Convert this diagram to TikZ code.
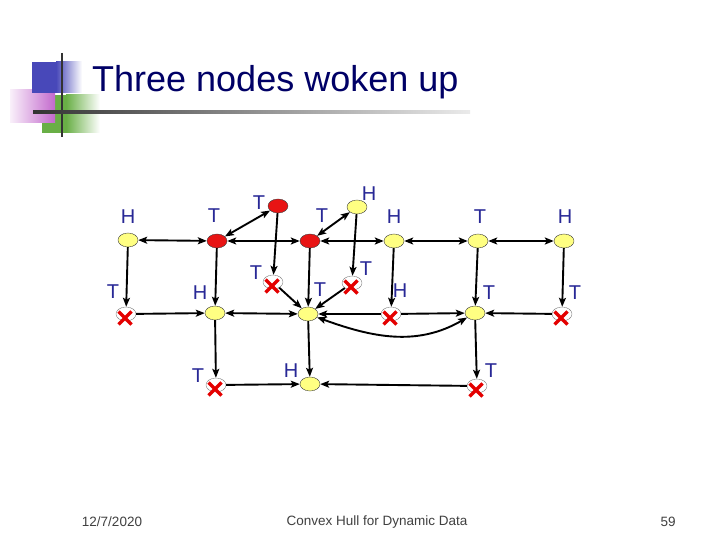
\documentclass[tikz,border=0pt]{standalone}
\usepackage{fontspec}
\setmainfont{Liberation Sans}
\usetikzlibrary{shapes.geometric, arrows.meta}
\definecolor{titleblue}{RGB}{0,0,102}
\definecolor{labelblue}{RGB}{40,40,150}
\definecolor{nodeyellow}{RGB}{255,255,130}
\definecolor{nodered}{RGB}{232,20,20}
\definecolor{xred}{RGB}{228,0,0}
\definecolor{logoblue}{RGB}{72,72,185}
\definecolor{logopink}{RGB}{195,105,205}
\definecolor{logogreen}{RGB}{105,175,70}

\begin{document}
\begin{tikzpicture}[x=1pt, y=-1pt,
    every node/.style={font=\fontsize{20}{22}\selectfont, text=labelblue, inner sep=0pt},
    hnode/.style={ellipse, draw=black!75, fill=nodeyellow, minimum width=20pt, minimum height=14pt},
    wnode/.style={hnode, fill=nodered},
    xnode/.style={hnode, fill=white, draw=black!50},
    arr/.style={-{Stealth[length=9pt,width=7pt,inset=2pt]}, line width=1.9pt},
    biarr/.style={{Stealth[length=9pt,width=7pt,inset=2pt]}-{Stealth[length=9pt,width=7pt,inset=2pt]}, line width=1.9pt},
    xline/.style={xred, line width=3.2pt}]
    \useasboundingbox[fill=white] (0,0) rectangle (720,540);
    % logo
    \fill[logogreen] (42,95) rectangle (66,133);
    \shade[left color=logogreen, right color=white] (66,95) rectangle (100,133);
    \shade[left color=logopink!10, right color=logopink] (10,90) rectangle (55,123);
    \fill[logoblue] (32,62) rectangle (56,93);
    \shade[left color=logoblue, right color=white] (56,62) rectangle (82,93);
    \draw[black!80, line width=2.5pt] (62,53) -- (62,137);
    \shade[left color=black!80, right color=black!8] (33,110.7) rectangle (470,113.3);
    % title
    \node[font=\fontsize{36}{40}\selectfont, text=titleblue, anchor=base west] (title) at (92,92) {Three nodes woken up};
    % top row
    \node[hnode] (a) at (128,240) {};
    \node[wnode] (b) at (217,241) {};
    \node[wnode] (g) at (278,206) {};
    \node[wnode] (c) at (310,241) {};
    \node[hnode] (h) at (357,207) {};
    \node[hnode] (d) at (394,241) {};
    \node[hnode] (e) at (478,241) {};
    \node[hnode] (f) at (564,241) {};
    % middle row
    \node[xnode] (p) at (126,314) {};
    \node[hnode] (q) at (215,313) {};
    \node[xnode] (r) at (273,282) {};
    \node[hnode] (s) at (308,314) {};
    \node[xnode] (t) at (352,283) {};
    \node[xnode] (u) at (391,314) {};
    \node[hnode] (v) at (475,313) {};
    \node[xnode] (w) at (562,314) {};
    % bottom row
    \node[xnode] (x) at (216,385) {};
    \node[hnode] (y) at (310,384) {};
    \node[xnode] (z) at (477,386) {};
    % labels
    \node (la) at (128,217) {H};
    \node (lb) at (214,216) {T};
    \node (lg) at (259,203) {T};
    \node (lc) at (322,216) {T};
    \node (lh) at (369,194) {H};
    \node (ld) at (394,217) {H};
    \node (le) at (480,217) {T};
    \node (lf) at (565,217) {H};
    \node (lp) at (113,292) {T};
    \node (lq) at (200,293) {H};
    \node (lr) at (256,273) {T};
    \node (ls) at (320,290) {T};
    \node (lt) at (366,269) {T};
    \node (lu) at (400,291) {H};
    \node (lv) at (489,293) {T};
    \node (lw) at (575,293) {T};
    \node (lx) at (198,376) {T};
    \node (ly) at (291,371) {H};
    \node (lz) at (491,371) {T};
    % two-way links
    \draw[biarr] (a) -- (b);
    \draw[biarr] (b) -- (g);
    \draw[biarr] (b) -- (c);
    \draw[biarr] (c) -- (h);
    \draw[biarr] (c) -- (d);
    \draw[biarr] (d) -- (e);
    \draw[biarr] (e) -- (f);
    \draw[biarr] (q) -- (s);
    \draw[biarr] (s) to[out=-20, in=-150] (v);
    % one-way links
    \draw[arr] (a) -- (p);
    \draw[arr] (b) -- (q);
    \draw[arr] (g) -- (r);
    \draw[arr] (c) -- (s);
    \draw[arr] (h) -- (t);
    \draw[arr] (d) -- (u);
    \draw[arr] (e) -- (v);
    \draw[arr] (f) -- (w);
    \draw[arr] (p) -- (q);
    \draw[arr] (r) -- (s);
    \draw[arr] (t) -- (s);
    \draw[arr] (u) -- (s);
    \draw[arr] (u) -- (v);
    \draw[arr] (w) -- (v);
    \draw[arr] (q) -- (x);
    \draw[arr] (s) -- (y);
    \draw[arr] (v) -- (z);
    \draw[arr] (x) -- (y);
    \draw[arr] (z) -- (y);
    % crossed out nodes
    \foreach \n in {p,r,t,u,w,x,z}
        \draw[xline] ([shift={(-7.5,-2.5)}]\n.center) -- ([shift={(5.5,10.5)}]\n.center)
                     ([shift={(-7.5,10.5)}]\n.center) -- ([shift={(5.5,-2.5)}]\n.center);
    % footer
    \node[font=\fontsize{13.5}{15}\selectfont, text=black!75] (date) at (112,522) {12/7/2020};
    \node[font=\fontsize{13.5}{15}\selectfont, text=black!75] (foot) at (377,522) {Convex Hull for Dynamic Data};
    \node[font=\fontsize{13.5}{15}\selectfont, text=black!75] (page) at (668,522) {59};
\end{tikzpicture}
\end{document}
